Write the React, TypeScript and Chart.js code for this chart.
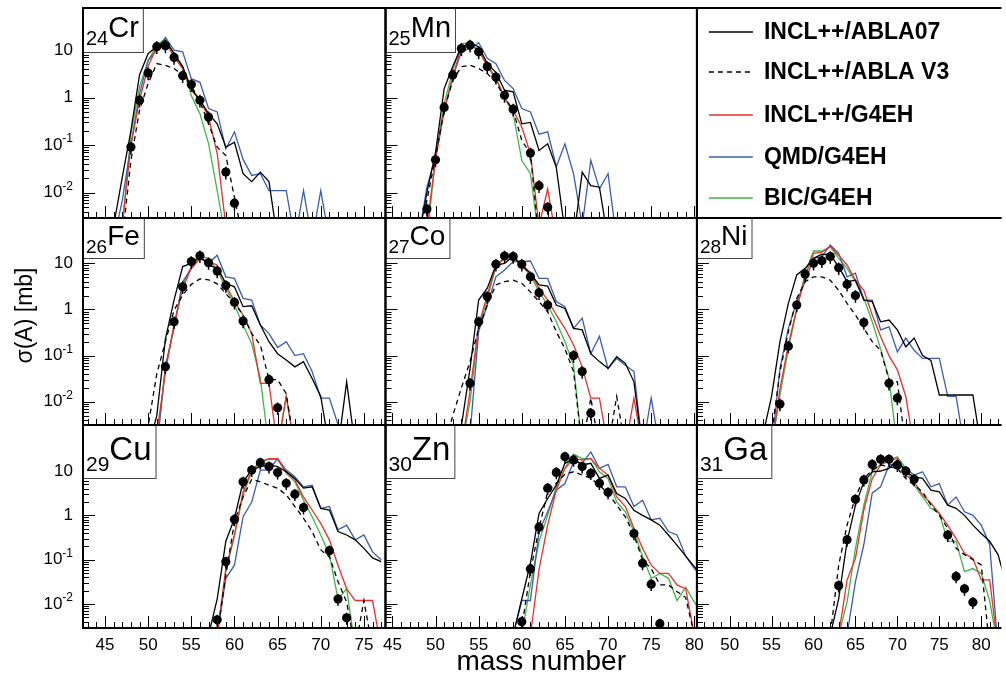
import React, { useEffect, useRef } from "react";
import { Chart, registerables } from "chart.js";
Chart.register(...registerables);

// ---------------- data (mass number A, cross section in mb) ----------------
// 0.001 marks values below the plotted range (the line drops out of the frame)
const crMass = [45, 46, 47, 48, 49, 50, 51, 52, 53, 54, 55, 56, 57, 58, 59, 60, 61, 62, 63, 64, 65, 66, 67, 68, 69, 70, 71, 72];
const crExp = [null, null, null, 0.091, 0.88, 3.3, 11.8, 12.3, 7.0, 2.9, 1.88, 0.88, 0.39, null, 0.027, 0.006, null, null, null, null, null, null, null, null, null, null, null, null];
const crAbla07 = [0.001, 0.002, 0.021, 0.2, 3.0, 8.5, 11.8, 16, 8.5, 4.5, 1.55, 0.88, 0.46, 0.28, 0.091, 0.115, 0.025, 0.017, 0.027, 0.017, 0.001, 0.001, 0.001, 0.001, 0.001, 0.001, 0.001, 0.001];
const crAblaV3 = [0.001, 0.001, 0.001, 0.047, 0.54, 2.0, 5.2, 4.8, 4.1, 3.0, 1.8, 0.81, 0.28, 0.091, 0.06, 0.008, 0.001, 0.001, 0.001, 0.001, 0.001, 0.001, 0.001, 0.001, 0.001, 0.001, 0.001, 0.001];
const crInclG4 = [0.001, 0.001, 0.002, 0.1, 0.88, 4.5, 11.8, 15, 7.2, 4.1, 1.43, 0.88, 0.39, 0.066, 0.002, 0.001, 0.001, 0.001, 0.001, 0.001, 0.001, 0.001, 0.001, 0.001, 0.001, 0.001, 0.001, 0.001];
const crQmd = [0.001, 0.001, 0.0068, 0.1, 1.2, 6.1, 10, 18.5, 10, 9.2, 2.5, 2.1, 0.59, 0.5, 0.083, 0.19, 0.05, 0.023, 0.025, 0.011, 0.011, 0.011, 0.001, 0.011, 0.001, 0.011, 0.001, 0.001];
const crBic = [0.001, 0.001, 0.002, 0.17, 1.7, 6.1, 12.6, 17.6, 7.8, 4.5, 1.1, 0.46, 0.107, 0.011, 0.001, 0.001, 0.001, 0.001, 0.001, 0.001, 0.001, 0.001, 0.001, 0.001, 0.001, 0.001, 0.001, 0.001];

const mnMass = [48, 49, 50, 51, 52, 53, 54, 55, 56, 57, 58, 59, 60, 61, 62, 63, 64, 65, 66, 67, 68, 69, 70, 71];
const mnExp = [null, 0.0045, 0.049, 0.62, 3.0, 10.8, 12.7, 9.2, 4.5, 2.7, 1.12, 0.57, null, 0.068, 0.014, 0.0049, null, null, null, null, null, null, null, null];
const mnAbla07 = [0.001, 0.01, 0.07, 1.55, 4.5, 11.8, 13.8, 11.8, 5.2, 3.4, 1.43, 1.32, 0.28, 0.3, 0.077, 0.107, 0.034, 0.0015, 0.001, 0.027, 0.014, 0.013, 0.001, 0.001];
const mnAblaV3 = [0.001, 0.0068, 0.056, 0.54, 2.3, 4.5, 4.8, 4.1, 3.2, 2.1, 1.0, 0.54, 0.125, 0.066, 0.001, 0.001, 0.001, 0.001, 0.001, 0.001, 0.001, 0.001, 0.001, 0.001];
const mnInclG4 = [0.001, 0.002, 0.048, 0.54, 2.7, 11.8, 12.8, 10, 4.5, 2.5, 1.0, 0.54, 0.24, 0.066, 0.002, 0.012, 0.001, 0.001, 0.001, 0.001, 0.001, 0.001, 0.001, 0.001];
const mnQmd = [0.001, 0.013, 0.056, 0.54, 2.7, 9.2, 10.8, 14.3, 6.7, 5.2, 2.3, 1.55, 0.59, 0.5, 0.17, 0.19, 0.035, 0.107, 0.025, 0.002, 0.048, 0.012, 0.025, 0.001];
const mnBic = [0.001, 0.001, 0.056, 0.74, 3.8, 13.8, 13.8, 10, 4.8, 2.7, 1.0, 0.46, 0.048, 0.025, 0.001, 0.001, 0.001, 0.001, 0.001, 0.001, 0.001, 0.001, 0.001, 0.001];

const feMass = [49, 50, 51, 52, 53, 54, 55, 56, 57, 58, 59, 60, 61, 62, 63, 64, 65, 66, 67, 68, 69, 70, 71, 72, 73, 74];
const feExp = [null, null, null, 0.057, 0.54, 3.1, 10.9, 14.6, 10.3, 6.8, 3.3, 1.43, 0.56, null, null, 0.03, 0.0074, null, null, null, null, null, null, null, null, null];
const feAbla07 = [0.001, 0.001, 0.005, 0.23, 1.6, 8.5, 10, 14, 9.2, 7.8, 3.7, 3.1, 1.15, 1.2, 0.46, 0.2, 0.11, 0.08, 0.057, 0.074, 0.032, 0.013, 0.001, 0.001, 0.027, 0.001];
const feAblaV3 = [0.001, 0.003, 0.04, 0.2, 0.97, 2.05, 3.5, 4.6, 4.4, 3.6, 2.2, 1.35, 0.76, 0.3, 0.17, 0.03, 0.03, 0.015, 0.001, 0.001, 0.001, 0.001, 0.001, 0.001, 0.001, 0.001];
const feInclG4 = [0.001, 0.001, 0.002, 0.045, 0.46, 2.9, 7.8, 12.8, 10.9, 9.2, 3.4, 1.48, 0.76, 0.3, 0.025, 0.025, 0.001, 0.013, 0.001, 0.001, 0.001, 0.001, 0.001, 0.001, 0.001, 0.001];
const feQmd = [0.001, 0.001, 0.001, 0.06, 0.39, 4.0, 7.8, 12.8, 10, 15, 5.1, 4.7, 1.74, 1.6, 0.46, 0.3, 0.15, 0.2, 0.1, 0.11, 0.045, 0.012, 0.012, 0.0032, 0.001, 0.001];
const feBic = [0.001, 0.001, 0.001, 0.053, 0.46, 3.4, 8.5, 14, 12.8, 7.2, 2.9, 1.25, 0.46, 0.18, 0.032, 0.001, 0.001, 0.013, 0.001, 0.001, 0.001, 0.001, 0.001, 0.001, 0.001, 0.001];

const coMass = [51, 52, 53, 54, 55, 56, 57, 58, 59, 60, 61, 62, 63, 64, 65, 66, 67, 68, 69, 70, 71, 72, 73, 74, 75, 76];
const coExp = [null, null, null, 0.025, 0.54, 1.9, 9.5, 14.4, 14, 9.5, 5.1, 2.3, 1.25, null, null, 0.1, 0.045, 0.0056, null, null, null, null, null, null, null, null];
const coAbla07 = [0.001, 0.001, 0.003, 0.052, 1.6, 2.9, 9.2, 10, 14, 9.2, 6.1, 3.4, 3.2, 1.25, 1.05, 0.39, 0.36, 0.11, 0.074, 0.053, 0.095, 0.068, 0.027, 0.001, 0.001, 0.001];
const coAblaV3 = [0.001, 0.005, 0.02, 0.074, 0.39, 1.25, 3.4, 4.0, 4.3, 3.7, 2.4, 1.48, 0.89, 0.33, 0.14, 0.045, 0.001, 0.012, 0.001, 0.001, 0.013, 0.001, 0.001, 0.001, 0.001, 0.001];
const coInclG4 = [0.001, 0.001, 0.001, 0.017, 0.46, 2.05, 9.2, 12.8, 14, 9.2, 6.1, 2.9, 1.6, 0.76, 0.39, 0.17, 0.057, 0.012, 0.012, 0.001, 0.001, 0.001, 0.012, 0.001, 0.001, 0.001];
const coQmd = [0.001, 0.001, 0.001, 0.002, 0.33, 1.25, 5.1, 7.2, 10.9, 10.9, 11.2, 4.7, 4.7, 1.48, 1.15, 0.39, 0.65, 0.11, 0.26, 0.052, 0.087, 0.062, 0.045, 0.001, 0.012, 0.001];
const coBic = [0.001, 0.001, 0.001, 0.01, 0.39, 1.7, 8.5, 13.3, 14, 8.5, 5.6, 2.4, 1.25, 0.54, 0.2, 0.062, 0.001, 0.001, 0.001, 0.001, 0.001, 0.001, 0.001, 0.001, 0.001, 0.001];

const niMass = [53, 54, 55, 56, 57, 58, 59, 60, 61, 62, 63, 64, 65, 66, 67, 68, 69, 70, 71, 72, 73, 74, 75, 76, 77, 78, 79, 80, 81];
const niExp = [null, null, null, 0.0089, 0.16, 1.25, 5.8, 10, 11.3, 14, 8.0, 3.5, 2.0, 0.52, null, null, 0.025, 0.012, null, null, null, null, null, null, null, null, null, null, null];
const niAbla07 = [0.001, 0.002, 0.013, 0.2, 1.35, 5.6, 7.8, 12.8, 15.7, 15.2, 8.5, 4.0, 4.3, 1.6, 1.48, 0.54, 0.59, 0.36, 0.155, 0.24, 0.1, 0.079, 0.014, 0.014, 0.014, 0.014, 0.014, 0.001, 0.001];
const niAblaV3 = [0.001, 0.001, 0.002, 0.045, 0.33, 1.74, 4.0, 5.1, 5.1, 4.3, 2.6, 1.35, 0.76, 0.39, 0.2, 0.13, 0.03, 0.027, 0.001, 0.001, 0.001, 0.001, 0.001, 0.001, 0.001, 0.001, 0.001, 0.001, 0.001];
const niInclG4 = [0.001, 0.001, 0.001, 0.019, 0.17, 1.05, 5.1, 16.5, 17.4, 23, 15, 9.2, 4.3, 2.6, 0.76, 0.26, 0.1, 0.049, 0.013, 0.001, 0.001, 0.001, 0.001, 0.001, 0.001, 0.001, 0.001, 0.001, 0.001];
const niQmd = [0.001, 0.001, 0.001, 0.053, 0.39, 1.48, 4.0, 12.8, 14, 25, 16.5, 5.1, 6.1, 1.6, 1.6, 0.36, 0.42, 0.12, 0.24, 0.13, 0.087, 0.087, 0.087, 0.013, 0.013, 0.001, 0.001, 0.001, 0.001];
const niBic = [0.001, 0.001, 0.001, 0.014, 0.14, 0.98, 6.1, 18.5, 18.5, 23, 12.8, 7.8, 4.0, 1.74, 0.54, 0.14, 0.032, 0.001, 0.001, 0.001, 0.001, 0.001, 0.001, 0.001, 0.001, 0.001, 0.001, 0.001, 0.001];

const cuMass = [56, 57, 58, 59, 60, 61, 62, 63, 64, 65, 66, 67, 68, 69, 70, 71, 72, 73, 74, 75, 76, 77];
const cuExp = [null, null, 0.0044, 0.09, 0.81, 5.7, 10.5, 15.4, 12.6, 9.2, 5.3, 3.0, 1.5, null, null, 0.16, 0.013, 0.0049, null, null, null, null];
const cuAbla07 = [0.001, 0.002, 0.013, 0.26, 0.85, 5.7, 10.5, 12.6, 13.7, 12.6, 9.6, 6.8, 4.1, 4.4, 1.44, 1.32, 0.43, 0.36, 0.28, 0.18, 0.11, 0.09];
const cuAblaV3 = [0.001, 0.001, 0.002, 0.045, 0.72, 2.6, 6.5, 5.7, 4.8, 4.1, 2.9, 1.58, 0.86, 0.43, 0.166, 0.117, 0.032, 0.011, 0.001, 0.012, 0.001, 0.001];
const cuInclG4 = [0.001, 0.001, 0.002, 0.063, 0.36, 3.4, 10.5, 16.2, 19, 19, 9.6, 6.3, 2.6, 1.32, 0.66, 0.28, 0.075, 0.022, 0.012, 0.012, 0.012, 0.001];
const cuQmd = [0.001, 0.001, 0.002, 0.038, 0.075, 0.93, 2.0, 10.5, 10.5, 19, 10.5, 7.4, 4.4, 4.8, 1.44, 1.58, 0.47, 0.6, 0.28, 0.36, 0.15, 0.1];
const cuBic = [0.001, 0.001, 0.002, 0.054, 0.36, 2.9, 9.6, 16.2, 18.3, 18.3, 8.9, 5.7, 2.2, 0.93, 0.36, 0.13, 0.013, 0.022, 0.001, 0.001, 0.001, 0.001];

const znMass = [58, 59, 60, 61, 62, 63, 64, 65, 66, 67, 68, 69, 70, 71, 72, 73, 74, 75, 76, 77, 78, 79, 80, 81];
const znExp = [null, null, 0.004, 0.062, 0.54, 4.1, 9.3, 21, 17.8, 12.6, 8.9, 5.3, 3.3, null, null, 0.39, 0.083, 0.028, 0.0036, null, null, null, null, null];
const znAbla07 = [0.001, 0.002, 0.013, 0.083, 1.1, 2.4, 4.8, 14.9, 19, 13.7, 14.9, 6.8, 8.1, 3.1, 2.4, 1.3, 1.0, 0.79, 0.6, 0.36, 0.21, 0.12, 0.07, 0.04];
const znAblaV3 = [0.001, 0.001, 0.003, 0.054, 0.51, 3.4, 5.3, 8.4, 9.6, 8.1, 6.8, 4.8, 3.1, 1.7, 0.93, 0.36, 0.098, 0.063, 0.027, 0.027, 0.019, 0.014, 0.002, 0.001];
const znInclG4 = [0.001, 0.001, 0.001, 0.002, 0.06, 0.6, 3.7, 11.5, 19, 17.7, 19, 11.5, 8.1, 2.6, 1.58, 0.51, 0.18, 0.075, 0.049, 0.049, 0.027, 0.022, 0.002, 0.001];
const znQmd = [0.001, 0.002, 0.012, 0.012, 0.43, 1.2, 3.7, 5.2, 16.2, 14.9, 27, 11.5, 14.1, 4.4, 4.4, 1.58, 2.2, 0.79, 0.86, 0.43, 0.36, 0.12, 0.063, 0.04];
const znBic = [0.001, 0.001, 0.002, 0.027, 0.26, 1.0, 4.4, 11.5, 24, 19, 19, 9.6, 6.8, 2.0, 1.2, 0.43, 0.12, 0.038, 0.049, 0.038, 0.012, 0.024, 0.011, 0.006];

const gaMass = [61, 62, 63, 64, 65, 66, 67, 68, 69, 70, 71, 72, 73, 74, 75, 76, 77, 78, 79, 80, 81, 82, 83];
const gaExp = [null, null, 0.026, 0.28, 2.3, 6.3, 14.1, 18.3, 18.3, 13.6, 10, 6.5, null, null, null, 0.36, 0.042, 0.022, 0.011, null, null, null, null];
const gaAbla07 = [0.001, 0.002, 0.013, 0.26, 1.7, 5.7, 9.6, 10, 11.5, 17.7, 9.6, 7.4, 6.8, 3.7, 3.4, 1.7, 1.44, 1.0, 0.6, 0.39, 0.26, 0.13, 0.027];
const gaAblaV3 = [0.001, 0.002, 0.075, 0.6, 2.6, 6.8, 10.5, 13.7, 12.6, 11.5, 6.8, 4.8, 3.4, 1.7, 1.0, 0.51, 0.18, 0.13, 0.1, 0.076, 0.001, 0.001, 0.001];
const gaInclG4 = [0.001, 0.001, 0.002, 0.035, 0.107, 1.32, 6.8, 13.7, 16.8, 19.4, 8.1, 5.7, 2.9, 1.87, 1.1, 0.6, 0.3, 0.14, 0.107, 0.035, 0.035, 0.001, 0.001];
const gaQmd = [0.001, 0.001, 0.001, 0.002, 0.032, 0.22, 3.2, 4.4, 13.7, 14.9, 11.5, 8.1, 9.6, 4.4, 5.2, 1.7, 2.6, 1.2, 1.0, 0.6, 0.22, 0.001, 0.001];
const gaBic = [0.001, 0.001, 0.002, 0.011, 0.18, 1.7, 9.6, 14.1, 17.7, 21, 11.5, 4.8, 2.6, 1.44, 1.1, 0.26, 0.26, 0.054, 0.063, 0.049, 0.012, 0.001, 0.001];

const modelNames = ["INCL++/ABLA07", "INCL++/ABLA V3", "INCL++/G4EH", "QMD/G4EH", "BIC/G4EH"];
const xTitle = "mass number";
const yTitle = "σ(A) [mb]";

// axis ranges per column / row of the 3x3 grid
const colRanges = [[42.45, 77.5], [44.2, 80.3], [46.1, 82.4]];
const rowRanges = [[0.00292, 77], [0.00313, 96], [0.00288, 109]];
const xLabelValues = [45, 50, 55, 60, 65, 70, 75, 80];
const yLabelExps = [-2, -1, 0, 1];

const PANELS = [
  { z: "24", sym: "Cr", row: 0, col: 0, mass: crMass, exp: crExp, series: [crAbla07, crAblaV3, crInclG4, crQmd, crBic] },
  { z: "25", sym: "Mn", row: 0, col: 1, mass: mnMass, exp: mnExp, series: [mnAbla07, mnAblaV3, mnInclG4, mnQmd, mnBic] },
  { z: "26", sym: "Fe", row: 1, col: 0, mass: feMass, exp: feExp, series: [feAbla07, feAblaV3, feInclG4, feQmd, feBic] },
  { z: "27", sym: "Co", row: 1, col: 1, mass: coMass, exp: coExp, series: [coAbla07, coAblaV3, coInclG4, coQmd, coBic] },
  { z: "28", sym: "Ni", row: 1, col: 2, mass: niMass, exp: niExp, series: [niAbla07, niAblaV3, niInclG4, niQmd, niBic] },
  { z: "29", sym: "Cu", row: 2, col: 0, mass: cuMass, exp: cuExp, series: [cuAbla07, cuAblaV3, cuInclG4, cuQmd, cuBic] },
  { z: "30", sym: "Zn", row: 2, col: 1, mass: znMass, exp: znExp, series: [znAbla07, znAblaV3, znInclG4, znQmd, znBic] },
  { z: "31", sym: "Ga", row: 2, col: 2, mass: gaMass, exp: gaExp, series: [gaAbla07, gaAblaV3, gaInclG4, gaQmd, gaBic] },
];

// ---------------- styles ----------------
const FONT = '"Liberation Sans", Arial, Helvetica, sans-serif';
const MODEL_STYLES = [
  { color: "#000000", dash: [] as number[], width: 1.3 },
  { color: "#000000", dash: [5, 4], width: 1.3 },
  { color: "#e8302c", dash: [] as number[], width: 1.3 },
  { color: "#3d5cb0", dash: [] as number[], width: 1.3 },
  { color: "#43b548", dash: [] as number[], width: 1.3 },
];
const COL_WEIGHTS = [304, 313, 306];
const ROW_WEIGHTS = [210, 207, 203];
const LABEL_BOX = [
  { h: 44, symFont: 29, subFont: 20, symBase: 29, subBase: 37 },
  { h: 40, symFont: 28, subFont: 19, symBase: 27, subBase: 35 },
  { h: 53, symFont: 33, subFont: 21, symBase: 35, subBase: 46 },
];
const ERR_REL = 0.3;

function buildDatasets() {
  const ds: any[] = [];
  for (const p of PANELS) {
    ds.push({
      label: p.sym + " data",
      xAxisID: "x" + p.col,
      yAxisID: "y" + p.row,
      showLine: false,
      pointRadius: 4.6,
      pointBorderWidth: 0,
      pointBackgroundColor: "#000",
      pointBorderColor: "#000",
      data: p.mass.map((a, i) => (p.exp[i] == null ? null : { x: a, y: p.exp[i] })).filter(Boolean),
    });
  }
  for (let m = 0; m < 5; m++) {
    for (const p of PANELS) {
      const st = MODEL_STYLES[m];
      ds.push({
        label: p.sym + " " + modelNames[m],
        xAxisID: "x" + p.col,
        yAxisID: "y" + p.row,
        borderColor: st.color,
        borderDash: st.dash,
        borderWidth: st.width,
        pointRadius: 0,
        tension: 0,
        fill: false,
        data: p.mass.map((a, i) => ({ x: a, y: p.series[m][i] })),
      });
    }
  }
  return ds;
}

const gridPlugin = {
  id: "gridPanels",
  afterDatasetsDraw(chart: any) {
    const ctx: CanvasRenderingContext2D = chart.ctx;
    ctx.save();
    const rect = (r: number, c: number) => {
      const xs = chart.scales["x" + c];
      const ys = chart.scales["y" + r];
      return { xs, ys, L: xs.left, R: xs.right, T: ys.top, B: ys.bottom };
    };
    // panel contents: error bars, ticks, element labels
    for (const p of PANELS) {
      const { xs, ys, L, R, T, B } = rect(p.row, p.col);
      ctx.save();
      ctx.beginPath();
      ctx.rect(L, T, R - L, B - T);
      ctx.clip();
      ctx.strokeStyle = "#000";
      ctx.lineWidth = 1.5;
      ctx.beginPath();
      p.mass.forEach((a, i) => {
        const v = p.exp[i];
        if (v == null) return;
        const x = xs.getPixelForValue(a);
        ctx.moveTo(x, ys.getPixelForValue(v * (1 + ERR_REL)));
        ctx.lineTo(x, ys.getPixelForValue(v * (1 - ERR_REL)));
      });
      ctx.stroke();
      ctx.lineWidth = 1;
      ctx.beginPath();
      for (let a = Math.ceil(xs.min); a <= Math.floor(xs.max); a++) {
        const x = Math.round(xs.getPixelForValue(a)) + 0.5;
        const len = a % 5 === 0 ? 12 : 6;
        ctx.moveTo(x, B);
        ctx.lineTo(x, B - len);
      }
      for (let e = -3; e <= 2; e++) {
        for (let m = 1; m <= 9; m++) {
          const v = m * Math.pow(10, e);
          if (v < ys.min || v > ys.max) continue;
          const y = Math.round(ys.getPixelForValue(v)) + 0.5;
          const len = m === 1 ? 12 : 6;
          ctx.moveTo(L, y);
          ctx.lineTo(L + len, y);
        }
      }
      ctx.stroke();
      ctx.restore();

      // element label box
      const lb = LABEL_BOX[p.row];
      ctx.font = `${lb.symFont}px ${FONT}`;
      const symW = ctx.measureText(p.sym).width;
      ctx.font = `${lb.subFont}px ${FONT}`;
      const subW = ctx.measureText(p.z).width;
      const bw = 3 + subW + symW + 4;
      ctx.fillStyle = "#fff";
      ctx.fillRect(L, T, bw, lb.h);
      ctx.strokeStyle = "#444";
      ctx.lineWidth = 1;
      ctx.strokeRect(L + 0.5, T + 0.5, bw, lb.h);
      ctx.fillStyle = "#000";
      ctx.textAlign = "left";
      ctx.textBaseline = "alphabetic";
      ctx.font = `${lb.subFont}px ${FONT}`;
      ctx.fillText(p.z, L + 3, T + lb.subBase);
      ctx.font = `${lb.symFont}px ${FONT}`;
      ctx.fillText(p.sym, L + 3 + subW, T + lb.symBase);
    }

    // x tick labels (bottom row)
    ctx.fillStyle = "#000";
    ctx.font = `17px ${FONT}`;
    ctx.textAlign = "center";
    ctx.textBaseline = "alphabetic";
    for (let c = 0; c < 3; c++) {
      const { xs, B } = rect(2, c);
      for (const v of xLabelValues) {
        if (v < xs.min || v > xs.max) continue;
        ctx.fillText(String(v), xs.getPixelForValue(v), B + 22);
      }
    }
    // y tick labels (left column)
    for (let r = 0; r < 3; r++) {
      const { ys, L } = rect(r, 0);
      for (const e of yLabelExps) {
        const v = Math.pow(10, e);
        if (v < ys.min || v > ys.max) continue;
        const y = ys.getPixelForValue(v);
        const right = L - 10;
        ctx.textBaseline = "middle";
        ctx.textAlign = "right";
        if (e === 0 || e === 1) {
          ctx.font = `17px ${FONT}`;
          ctx.fillText(e === 0 ? "1" : "10", right, y);
        } else {
          ctx.font = `12px ${FONT}`;
          const sup = String(e);
          const sw = ctx.measureText(sup).width;
          ctx.fillText(sup, right, y - 6);
          ctx.font = `17px ${FONT}`;
          ctx.fillText("10", right - sw, y);
        }
      }
    }
    // axis titles
    {
      const { xs, B } = rect(2, 1);
      ctx.font = `28px ${FONT}`;
      ctx.textAlign = "center";
      ctx.textBaseline = "alphabetic";
      ctx.fillText(xTitle, (xs.left + xs.right) / 2, B + 42);
      const { ys } = rect(1, 0);
      ctx.save();
      ctx.translate(26, (ys.top + ys.bottom) / 2 - 6);
      ctx.rotate(-Math.PI / 2);
      ctx.font = `23px ${FONT}`;
      ctx.textBaseline = "middle";
      ctx.fillText(yTitle, 0, 0);
      ctx.restore();
    }
    // legend in the empty top-right panel
    {
      const { L, T } = rect(0, 2);
      const rowsY = [24, 64, 107, 149, 190];
      ctx.font = `bold 23px ${FONT}`;
      ctx.textAlign = "left";
      ctx.textBaseline = "middle";
      for (let m = 0; m < 5; m++) {
        const st = MODEL_STYLES[m];
        const y = T + rowsY[m];
        ctx.strokeStyle = st.color;
        ctx.lineWidth = 1.3;
        ctx.setLineDash(st.dash);
        ctx.beginPath();
        ctx.moveTo(L + 12, y);
        ctx.lineTo(L + 56, y);
        ctx.stroke();
        ctx.setLineDash([]);
        ctx.fillStyle = "#000";
        ctx.fillText(modelNames[m], L + 67, y + 1);
      }
    }
    // panel frames
    ctx.strokeStyle = "#000";
    ctx.lineWidth = 2;
    for (let r = 0; r < 3; r++) {
      for (let c = 0; c < 3; c++) {
        const { L, R, T, B } = rect(r, c);
        ctx.beginPath();
        ctx.moveTo(R, T);
        ctx.lineTo(L, T);
        ctx.lineTo(L, B);
        ctx.lineTo(R, B);
        if (c < 2) ctx.lineTo(R, T);
        ctx.stroke();
      }
    }
    ctx.restore();
  },
};

function buildScales() {
  const scales: any = {};
  for (let c = 0; c < 3; c++) {
    scales["x" + c] = {
      type: "linear",
      position: "bottom",
      stack: "cols",
      stackWeight: COL_WEIGHTS[c],
      min: colRanges[c][0],
      max: colRanges[c][1],
      ticks: { display: false },
      grid: { display: false, drawTicks: false },
      border: { display: false },
      afterFit: (s: any) => { s.height = 49; },
    };
  }
  // left-positioned stacked axes are laid out in reverse order: last defined goes on top
  for (let r = 2; r >= 0; r--) {
    scales["y" + r] = {
      type: "logarithmic",
      position: "left",
      stack: "rows",
      stackWeight: ROW_WEIGHTS[r],
      min: rowRanges[r][0],
      max: rowRanges[r][1],
      ticks: { display: false },
      grid: { display: false, drawTicks: false },
      border: { display: false },
      afterFit: (s: any) => { s.width = 83; },
    };
  }
  return scales;
}

export default function App() {
  const ref = useRef<HTMLCanvasElement>(null);
  useEffect(() => {
    const canvas = ref.current;
    if (!canvas) return;
    const chart = new Chart(canvas, {
      type: "line",
      data: { datasets: buildDatasets() },
      options: {
        responsive: false,
        maintainAspectRatio: false,
        devicePixelRatio: 1,
        animation: false,
        events: [],
        layout: { padding: { top: 8, left: 0, right: 0, bottom: 0 } },
        plugins: { legend: { display: false }, tooltip: { enabled: false }, title: { display: false } },
        scales: buildScales(),
      },
      plugins: [gridPlugin],
    } as any);
    return () => chart.destroy();
  }, []);
  return (
    <div style={{ position: "fixed", left: 0, top: 0, width: 1006, height: 677, background: "#fff" }}>
      <canvas ref={ref} width={1006} height={677} style={{ display: "block", width: 1006, height: 677 }} />
    </div>
  );
}
